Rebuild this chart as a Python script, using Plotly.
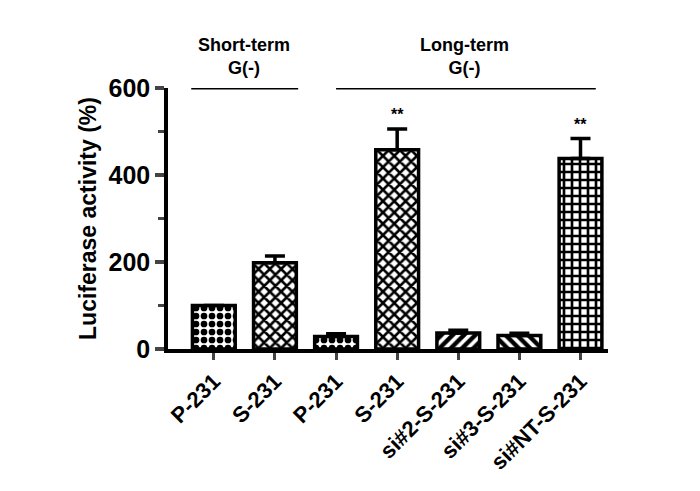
import plotly.graph_objects as go

categories = ["P-231", "S-231", "P-231 ", "S-231 ", "si#2-S-231", "si#3-S-231", "si#NT-S-231"]
values = [100, 198, 29, 458, 37, 31, 438]
errors = [0, 16, 6, 48, 6, 5, 46]
patterns = [".", "x", ".", "x", "/", "\\", "+"]
stars = ["", "", "", "**", "", "", "**"]

F = dict(family="Liberation Sans", color="black", weight="bold")

fig = go.Figure()
fig.add_trace(go.Bar(
    x=list(range(len(categories))), y=values,
    width=0.7,
    marker=dict(color="white", line=dict(color="black", width=3.5),
                pattern=dict(shape=patterns, fgcolor="black", fgopacity=1, size=8, solidity=0.55)),
    error_y=dict(type="data", array=errors, symmetric=False, arrayminus=[0]*7,
                 color="black", thickness=3.5, width=10),
))

for i, s in enumerate(stars):
    if s:
        fig.add_annotation(x=i, y=values[i] + errors[i], text=s, showarrow=False,
                           yshift=14, font=dict(F, size=16))

fig.add_shape(type="line", x0=-0.37, x1=1.38, y0=600, y1=600, line=dict(color="black", width=3))
fig.add_shape(type="line", x0=2.0, x1=6.25, y0=600, y1=600, line=dict(color="black", width=3))
fig.add_annotation(x=0.5, y=600, yshift=32, text="Short-term<br>G(-)", showarrow=False,
                   font=dict(F, size=18))
fig.add_annotation(x=4.1, y=600, yshift=32, text="Long-term<br>G(-)", showarrow=False,
                   font=dict(F, size=18))

fig.update_layout(
    width=700, height=491,
    paper_bgcolor="white", plot_bgcolor="white",
    margin=dict(l=160, r=100, t=80, b=150),
    showlegend=False,
    xaxis=dict(tickmode="array", tickvals=list(range(7)), ticktext=[c.strip() for c in categories],
               tickangle=-45, tickfont=dict(F, size=22), range=[-0.75, 6.45],
               showline=True, linecolor="black", linewidth=3.5, ticks="outside",
               ticklen=7, tickwidth=2.5, showgrid=False, zeroline=False),
    yaxis=dict(range=[0, 600], tickvals=[0, 200, 400, 600], tickfont=dict(F, size=25),
               title=dict(text="Luciferase activity (%)", font=dict(F, size=23), standoff=6),
               showline=True, linecolor="black", linewidth=3.5, ticks="outside",
               ticklen=9, tickwidth=3.5, showgrid=False, zeroline=False,
               minor=dict(tickvals=[100, 300, 500], ticks="outside", ticklen=6, tickwidth=2.5)),
)

fig.write_html("out.html")
